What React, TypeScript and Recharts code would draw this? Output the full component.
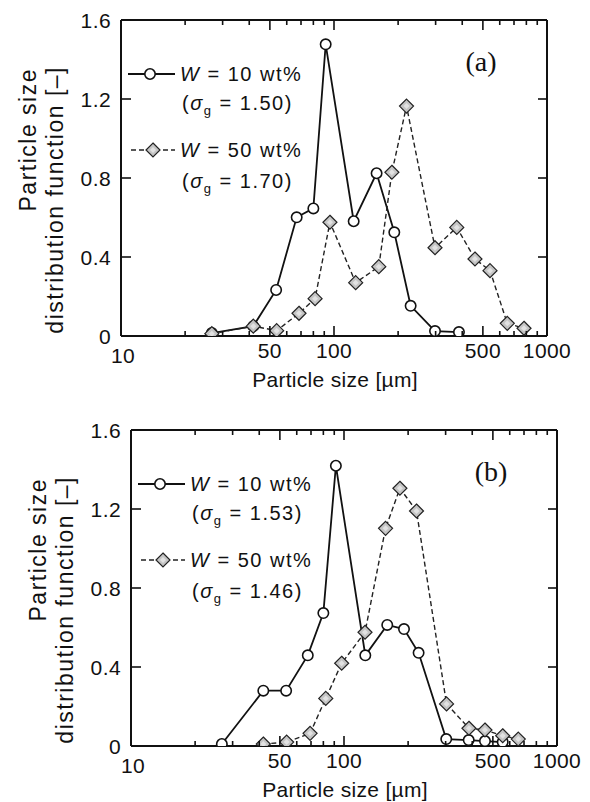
import React from 'react';
import { LineChart, Line, XAxis, YAxis, Legend } from 'recharts';

// ---- tick values / labels ----
const xTicksAll = [10, 20, 30, 40, 50, 60, 70, 80, 90, 100, 200, 300, 400, 500, 600, 700, 800, 900, 1000];
const xTickLabels = [10, 50, 100, 500, 1000];
const yTicks = [0, 0.4, 0.8, 1.2, 1.6];
const yTickLabels = ['0', '0.4', '0.8', '1.2', '1.6'];

// ---- panel (a) ----
const sizeA10 = [26.7, 41.8, 53.5, 66.8, 80.0, 91.4, 123.7, 158.5, 191.9, 229, 298, 386];
const psdA10 = [0.015, 0.05, 0.233, 0.601, 0.646, 1.477, 0.581, 0.824, 0.525, 0.153, 0.025, 0.02];
const sizeA50 = [26.7, 41.8, 53.8, 68.5, 81.5, 95.7, 126.4, 162.3, 187, 219, 298, 377, 459, 540, 651, 780];
const psdA50 = [0.012, 0.05, 0.027, 0.115, 0.189, 0.576, 0.27, 0.351, 0.829, 1.164, 0.447, 0.55, 0.39, 0.331, 0.064, 0.039];

// ---- panel (b) ----
const sizeB10 = [26.7, 41.8, 53.5, 67.6, 80, 91.6, 125.9, 159.6, 191.3, 224, 302, 385, 459, 556];
const psdB10 = [0.01, 0.28, 0.28, 0.459, 0.673, 1.419, 0.459, 0.613, 0.592, 0.472, 0.035, 0.03, 0.025, 0.02];
const sizeB50 = [41.8, 53.8, 69.3, 82.1, 97.5, 125.5, 156.7, 183, 219, 303, 386, 459, 556, 658];
const psdB50 = [0.01, 0.02, 0.064, 0.241, 0.419, 0.576, 1.102, 1.305, 1.19, 0.213, 0.09, 0.081, 0.052, 0.035];

const legendW = ['W', ' = 10 wt%', ' = 50 wt%'];
const sigmaA = ['1.50', '1.70'];
const sigmaB = ['1.53', '1.46'];

const toPts = (xs: number[], ys: number[]) => xs.map((x, i) => ({ x, y: ys[i] }));

const FONT = '"Liberation Sans", Arial, sans-serif';
const INK = '#111';

const BottomTick = (props: any) => {
  const { x, y, payload } = props;
  const v = payload.value;
  const major = xTickLabels.includes(v);
  return (
    <g>
      <line x1={x} y1={y} x2={x} y2={y - (major ? 10 : 5)} stroke={INK} strokeWidth={1.6} />
      {major && (
        <text x={v === 10 ? x + 2 : x} y={y + (v === 10 ? 27 : 22)} textAnchor="middle" fontFamily={FONT} fontSize={21} letterSpacing={0.4} fill={INK}>
          {String(v)}
        </text>
      )}
    </g>
  );
};

const TopTick = (props: any) => {
  const { x, y, payload } = props;
  const v = payload.value;
  const major = xTickLabels.includes(v);
  return <line x1={x} y1={y} x2={x} y2={y + (major ? 10 : 5)} stroke={INK} strokeWidth={1.6} />;
};

const LeftTick = (props: any) => {
  const { x, y, payload } = props;
  return (
    <g>
      <line x1={x} y1={y} x2={x + 10} y2={y} stroke={INK} strokeWidth={1.6} />
      <text x={x - 10} y={y} dy="0.36em" textAnchor="end" fontFamily={FONT} fontSize={21} letterSpacing={0.4} fill={INK}>
        {yTickLabels[yTicks.indexOf(payload.value)] ?? String(payload.value)}
      </text>
    </g>
  );
};

const RightTick = (props: any) => {
  const { x, y } = props;
  return <line x1={x} y1={y} x2={x - 9} y2={y} stroke={INK} strokeWidth={1.6} />;
};

const CircleDot = (props: any) => {
  const { cx, cy, index } = props;
  if (cx == null || cy == null) return <g key={`c-${index}`} />;
  return <circle key={`c-${index}`} cx={cx} cy={cy} r={5.2} fill="#fff" stroke={INK} strokeWidth={1.6} />;
};

const diamondPts = (cx: number, cy: number, r: number) =>
  `${cx},${cy - r} ${cx + r},${cy} ${cx},${cy + r} ${cx - r},${cy}`;

const DiamondDot = (props: any) => {
  const { cx, cy, index } = props;
  if (cx == null || cy == null) return <g key={`d-${index}`} />;
  return (
    <g key={`d-${index}`}>
      <polygon points={diamondPts(cx, cy, 7)} fill="#c4c4c4" stroke="#222" strokeWidth={1.2} />
      <polygon points={diamondPts(cx, cy, 3)} fill="#e2e2e2" stroke="none" />
    </g>
  );
};

type PanelProps = {
  top: number;
  dx: number;
  d10: { x: number; y: number }[];
  d50: { x: number; y: number }[];
  tag: string;
  sigmas: string[];
};

const Overlay = ({ dx, tag, sigmas }: { dx: number; tag: string; sigmas: string[] }) => {
  const lx = 128 + dx;
  const lf = 20;
  const ls = 1.5;
  return (
    <svg width={590} height={400} style={{ position: 'absolute', left: 0, top: 0, overflow: 'visible' }}>
      {/* y label */}
      <text transform={`translate(${36 + dx},68) rotate(-90)`} textAnchor="end" fontFamily={FONT} fontSize={23} letterSpacing={1.5} fill={INK}>
        Particle size
      </text>
      <text transform={`translate(${63 + dx},66) rotate(-90)`} textAnchor="end" fontFamily={FONT} fontSize={23} letterSpacing={1.5} fill={INK}>
        distribution function [–]
      </text>
      {/* x label */}
      <text x={335 + dx} y={387} textAnchor="middle" fontFamily={FONT} fontSize={21} letterSpacing={0.3} fill={INK}>
        Particle size [µm]
      </text>
      {/* panel tag */}
      <text x={481 + dx} y={71} textAnchor="middle" fontFamily='"Liberation Serif", "Times New Roman", serif' fontSize={28} fill={INK}>
        {tag}
      </text>
      {/* legend: W = 10 */}
      <line x1={lx} y1={74} x2={lx + 47} y2={74} stroke={INK} strokeWidth={1.8} />
      <circle cx={lx + 22} cy={74} r={5.2} fill="#fff" stroke={INK} strokeWidth={1.6} />
      <text x={180 + dx} y={81} fontFamily={FONT} fontSize={lf} letterSpacing={ls} fill={INK}>
        <tspan fontStyle="italic">{legendW[0]}</tspan>
        <tspan>{legendW[1]}</tspan>
      </text>
      <text x={182 + dx} y={110} fontFamily={FONT} fontSize={lf} letterSpacing={ls} fill={INK}>
        <tspan>(</tspan>
        <tspan fontStyle="italic">σ</tspan>
        <tspan fontSize={13} dy={5}>g</tspan>
        <tspan dy={-5}>{` = ${sigmas[0]})`}</tspan>
      </text>
      {/* legend: W = 50 */}
      <line x1={lx + 3} y1={150} x2={lx + 47} y2={150} stroke="#222" strokeWidth={1.4} strokeDasharray="5 3" />
      <polygon points={diamondPts(lx + 25, 150, 7)} fill="#c4c4c4" stroke="#222" strokeWidth={1.2} />
      <polygon points={diamondPts(lx + 25, 150, 3)} fill="#e2e2e2" />
      <text x={180 + dx} y={157} fontFamily={FONT} fontSize={lf} letterSpacing={ls} fill={INK}>
        <tspan fontStyle="italic">{legendW[0]}</tspan>
        <tspan>{legendW[2]}</tspan>
      </text>
      <text x={182 + dx} y={188} fontFamily={FONT} fontSize={lf} letterSpacing={ls} fill={INK}>
        <tspan>(</tspan>
        <tspan fontStyle="italic">σ</tspan>
        <tspan fontSize={13} dy={5}>g</tspan>
        <tspan dy={-5}>{` = ${sigmas[1]})`}</tspan>
      </text>
    </svg>
  );
};

const Panel = ({ top, dx, d10, d50, tag, sigmas }: PanelProps) => {
  const W = 590;
  const H = 400;
  const plotLeft = 121 + dx;
  const plotRight = 547 + dx;
  const plotTop = 20;
  const plotBottom = 336;
  const axisLine = { stroke: INK, strokeWidth: 2 };
  return (
    <div style={{ position: 'absolute', left: 0, top, width: W, height: H }}>
      <LineChart
        width={W}
        height={H}
        margin={{ top: plotTop - 1, right: W - plotRight - 1, bottom: H - plotBottom - 1, left: plotLeft - 1 }}
      >
        <XAxis
          xAxisId="b"
          dataKey="x"
          type="number"
          scale="log"
          domain={[10, 1000]}
          ticks={xTicksAll}
          interval={0}
          height={1}
          tickSize={0}
          tickMargin={0}
          tickLine={false}
          axisLine={axisLine}
          tick={<BottomTick />}
          allowDataOverflow
        />
        <XAxis
          xAxisId="t"
          orientation="top"
          dataKey="x"
          type="number"
          scale="log"
          domain={[10, 1000]}
          ticks={xTicksAll}
          interval={0}
          height={1}
          tickSize={0}
          tickMargin={0}
          tickLine={false}
          axisLine={axisLine}
          tick={<TopTick />}
          allowDataOverflow
        />
        <YAxis
          yAxisId="l"
          type="number"
          domain={[0, 1.6]}
          ticks={yTicks}
          interval={0}
          width={1}
          tickSize={0}
          tickMargin={0}
          tickLine={false}
          axisLine={axisLine}
          tick={<LeftTick />}
          allowDataOverflow
        />
        <YAxis
          yAxisId="r"
          orientation="right"
          type="number"
          domain={[0, 1.6]}
          ticks={yTicks}
          interval={0}
          width={1}
          tickSize={0}
          tickMargin={0}
          tickLine={false}
          axisLine={axisLine}
          tick={<RightTick />}
          allowDataOverflow
        />
        <Line
          xAxisId="b"
          yAxisId="l"
          data={d10}
          dataKey="y"
          type="linear"
          stroke={INK}
          strokeWidth={1.8}
          dot={CircleDot}
          activeDot={false}
          isAnimationActive={false}
        />
        <Line
          xAxisId="b"
          yAxisId="l"
          data={d50}
          dataKey="y"
          type="linear"
          stroke="#222"
          strokeWidth={1.4}
          strokeDasharray="5 3"
          dot={DiamondDot}
          activeDot={false}
          isAnimationActive={false}
        />
        <Legend
          layout="horizontal"
          verticalAlign="middle"
          align="center"
          wrapperStyle={{ left: 0, top: 0, width: W, height: H, margin: 0, padding: 0, pointerEvents: 'none' }}
          content={() => <Overlay dx={dx} tag={tag} sigmas={sigmas} />}
        />
      </LineChart>
    </div>
  );
};

export default function App() {
  return (
    <div style={{ position: 'absolute', left: 0, top: 0, width: 590, height: 802, background: '#fff' }}>
      <Panel top={0} dx={0} d10={toPts(sizeA10, psdA10)} d50={toPts(sizeA50, psdA50)} tag="(a)" sigmas={sigmaA} />
      <Panel top={410} dx={10} d10={toPts(sizeB10, psdB10)} d50={toPts(sizeB50, psdB50)} tag="(b)" sigmas={sigmaB} />
    </div>
  );
}
